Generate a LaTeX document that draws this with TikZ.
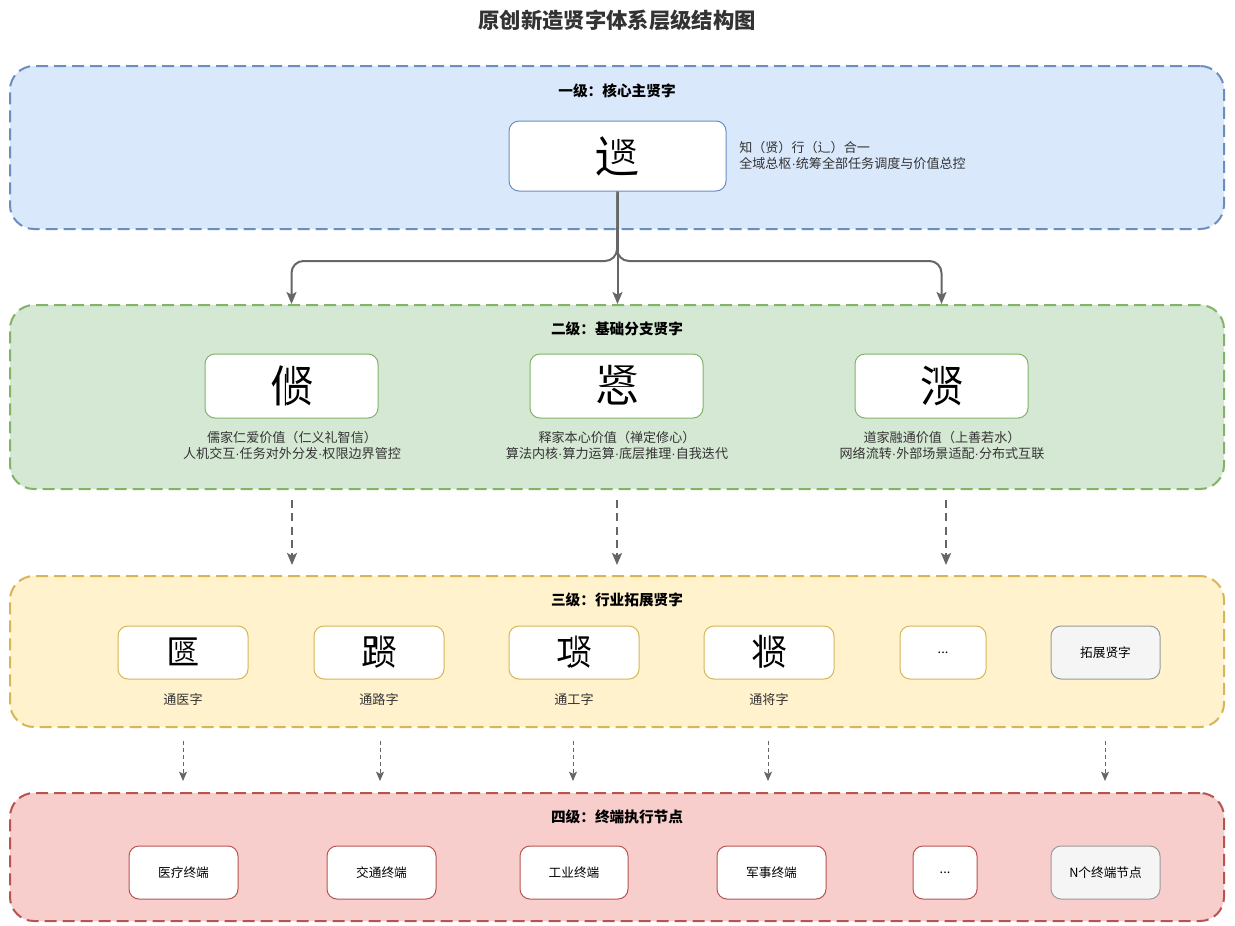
\documentclass[tikz,border=0pt]{standalone}
\usepackage{fontspec}
\setmainfont{Noto Sans CJK SC}
\newfontfamily\cjk{Noto Sans CJK SC}
\newfontfamily\latdot{Liberation Sans}
\newcommand\md{{\latdot ·}}
\usetikzlibrary{arrows.meta}
\definecolor{bfill}{HTML}{DAE8FC}\definecolor{bdraw}{HTML}{6C8EBF}
\definecolor{gfill}{HTML}{D5E8D4}\definecolor{gdraw}{HTML}{82B366}
\definecolor{yfill}{HTML}{FFF2CC}\definecolor{ydraw}{HTML}{D6B656}
\definecolor{rfill}{HTML}{F8CECC}\definecolor{rdraw}{HTML}{B85450}
\definecolor{grfill}{HTML}{F5F5F5}\definecolor{grdraw}{HTML}{9A9A9A}
\definecolor{arrc}{HTML}{666666}\definecolor{txtc}{HTML}{333333}
\newcounter{gc}
% left-right composite: center, size, left source char, left fraction, squeeze of right part
\newcommand\GLR[5]{%
  \stepcounter{gc}%
  \begin{scope}[shift={#1}]
    \begin{scope}
      \clip ({-0.5*#2pt},{-0.5*#2pt}) rectangle ({(#4-0.5)*#2pt},{0.5*#2pt});
      \node[gly=#2, anchor=base west] (g\arabic{gc}a) at ({-0.5*#2pt},{-0.38*#2pt}) {#3};
    \end{scope}
    \node[gly=#2, anchor=base west] (g\arabic{gc}b) at ({(#4-0.55)*#2pt},{-0.38*#2pt}) {\scalebox{#5}[1]{贤}};
  \end{scope}}
% enclosure composite: center, size, outer char, scale, x offset, y offset
\newcommand\GEN[6]{%
  \stepcounter{gc}%
  \begin{scope}[shift={#1}]
    \node[gly=#2, anchor=base west] (g\arabic{gc}a) at ({-0.5*#2pt},{-0.38*#2pt}) {#3};
    \node[gly=#2, anchor=base] (g\arabic{gc}b) at ({#5*#2pt},{(#6-0.38*#4)*#2pt}) {\scalebox{#4}{贤}};
  \end{scope}}
% top-bottom composite: center, size, bottom source char, clip fraction from top, vscale
\newcommand\GTB[5]{%
  \stepcounter{gc}%
  \begin{scope}[shift={#1}]
    \begin{scope}
      \clip ({-0.5*#2pt},{-0.5*#2pt}) rectangle ({0.5*#2pt},{(0.5-#4)*#2pt});
      \node[gly=#2, anchor=base west] (g\arabic{gc}a) at ({-0.5*#2pt},{-0.38*#2pt}) {#3};
    \end{scope}
    \node[gly=#2, anchor=base] (g\arabic{gc}b) at (0,{(0.5-0.88*#5)*#2pt}) {\scalebox{1}[#5]{贤}};
  \end{scope}}
\begin{document}
\begin{tikzpicture}[x=0.75pt,y=-0.75pt,
  gly/.style={inner sep=0pt, outer sep=0pt, text=black, font=\cjk\fontsize{#1}{#1}\selectfont},
  lvl/.style 2 args={draw=#1, fill=#2, line width=1.5pt, dash pattern=on 9pt off 4.5pt,
     rounded corners=18pt, minimum width=910.5pt, inner sep=0pt},
  box/.style={draw=#1, fill=white, line width=0.75pt, rounded corners=7.5pt, inner sep=0pt,
     text=black, font=\fontsize{9.5}{11}\selectfont},
  graybox/.style={box=grdraw, fill=grfill},
  lbl/.style={font=\fontsize{11}{13}\selectfont\bfseries, text=black},
  txt/.style={font=\fontsize{9.8}{12}\selectfont, text=txtc, align=center, inner sep=0pt},
  arr/.style={draw=arrc, line width=1.5pt, -{Stealth[length=9pt,width=7.5pt,inset=2pt]}},
  darr/.style={arr, dash pattern=on 6pt off 4pt},
  sarr/.style={draw=arrc, line width=0.75pt, dash pattern=on 3pt off 2.25pt,
     -{Stealth[length=7pt,width=6pt,inset=1.5pt]}}
]
\useasboundingbox (0,0) rectangle (1235,925);
\fill[white] (0,0) rectangle (1235,925);

\node[font=\fontsize{16}{18}\selectfont\bfseries, text=txtc] (title) at (617,20) {原创新造贤字体系层级结构图};

% containers
\node[lvl={bdraw}{bfill}, minimum height=122.25pt] (L1) at (617,147.5) {};
\node[lvl={gdraw}{gfill}, minimum height=138pt] (L2) at (617,397) {};
\node[lvl={ydraw}{yfill}, minimum height=113.25pt] (L3) at (617,651.5) {};
\node[lvl={rdraw}{rfill}, minimum height=96pt] (L4) at (617,857) {};

\node[lbl] (t1) at (617,91) {一级：核心主贤字};
\node[lbl] (t2) at (617,329) {二级：基础分支贤字};
\node[lbl] (t3) at (617,600) {三级：行业拓展贤字};
\node[lbl] (t4) at (617,817) {四级：终端执行节点};

% level 1
\node[box=bdraw, minimum width=162.75pt, minimum height=52.5pt] (top) at (617.5,156) {};
\GEN{(617.5,156)}{34}{辶}{0.62}{0.13}{0.09}
\node[txt, align=left, anchor=west] (desc) at (739,155) {知（贤）行（辶）合一\\全域总枢\md 统筹全部任务调度与价值总控};

% level 2
\node[box=gdraw, minimum width=129.75pt, minimum height=48pt] (b1) at (291.5,386) {};
\node[box=gdraw, minimum width=129.75pt, minimum height=48pt] (b2) at (616.5,386) {};
\node[box=gdraw, minimum width=129.75pt, minimum height=48pt] (b3) at (941.5,386) {};
\GLR{(292,386)}{33}{们}{0.36}{0.69}
\GTB{(617,386)}{33}{思}{0.5}{0.56}
\GLR{(942,386)}{33}{河}{0.34}{0.71}
\node[txt] (d1) at (292,445) {儒家仁爱价值（仁义礼智信）\\人机交互\md 任务对外分发\md 权限边界管控};
\node[txt] (d2) at (617,445) {释家本心价值（禅定修心）\\算法内核\md 算力运算\md 底层推理\md 自我迭代};
\node[txt] (d3) at (942,445) {道家融通价值（上善若水）\\网络流转\md 外部场景适配\md 分布式互联};

% level 3
\node[box=ydraw, minimum width=97.5pt, minimum height=39.75pt] (c1) at (183,652.5) {};
\node[box=ydraw, minimum width=97.5pt, minimum height=39.75pt] (c2) at (379,652.5) {};
\node[box=ydraw, minimum width=97.5pt, minimum height=39.75pt] (c3) at (574,652.5) {};
\node[box=ydraw, minimum width=97.5pt, minimum height=39.75pt] (c4) at (769,652.5) {};
\node[box=ydraw, minimum width=64.5pt, minimum height=39.75pt] (c5) at (943,652.5) {...};
\node[graybox, minimum width=81.75pt, minimum height=39.75pt] (c6) at (1105.5,652.5) {拓展贤字};
\GEN{(183,652)}{27}{匚}{0.64}{0.06}{0}
\GLR{(379,652)}{27}{路}{0.40}{0.66}
\GLR{(574,652)}{27}{功}{0.40}{0.66}
\GLR{(769,652)}{27}{将}{0.33}{0.72}
\node[txt] (e1) at (183,699) {通医字};
\node[txt] (e2) at (379,699) {通路字};
\node[txt] (e3) at (574,699) {通工字};
\node[txt] (e4) at (769,699) {通将字};

% level 4
\node[box=rdraw, minimum width=81.75pt, minimum height=39.75pt] (f1) at (183.5,872.5) {医疗终端};
\node[box=rdraw, minimum width=81.75pt, minimum height=39.75pt] (f2) at (381.5,872.5) {交通终端};
\node[box=rdraw, minimum width=81pt, minimum height=39.75pt] (f3) at (574,872.5) {工业终端};
\node[box=rdraw, minimum width=81.75pt, minimum height=39.75pt] (f4) at (771.5,872.5) {军事终端};
\node[box=rdraw, minimum width=48pt, minimum height=39.75pt] (f5) at (945,872.5) {...};
\node[graybox, minimum width=81.75pt, minimum height=39.75pt] (f6) at (1105.5,872.5) {N个终端节点};

% arrows level 1 -> 2
\coordinate (j) at (617,261);
\draw[arr] (top.south) -- (top.south |- L2.north);
\draw[arr, rounded corners=9pt] (top.south) -- (j) -| (b1.north |- L2.north);
\draw[arr, rounded corners=9pt] (top.south) -- (j) -| (b3.north |- L2.north);

% arrows level 2 -> 3
\coordinate (s1) at (292,500); \coordinate (e1p) at (292,565);
\coordinate (s2) at (617,500); \coordinate (e2p) at (617,565);
\coordinate (s3) at (946,500); \coordinate (e3p) at (946,565);
\draw[darr] (s1) -- (e1p);
\draw[darr] (s2) -- (e2p);
\draw[darr] (s3) -- (e3p);

% arrows level 3 -> 4
\foreach \x [count=\i] in {183,380,573,768,1105}{
  \coordinate (u\i) at (\x,741); \coordinate (v\i) at (\x,781);
  \draw[sarr] (u\i) -- (v\i);
}
\end{tikzpicture}
\end{document}
